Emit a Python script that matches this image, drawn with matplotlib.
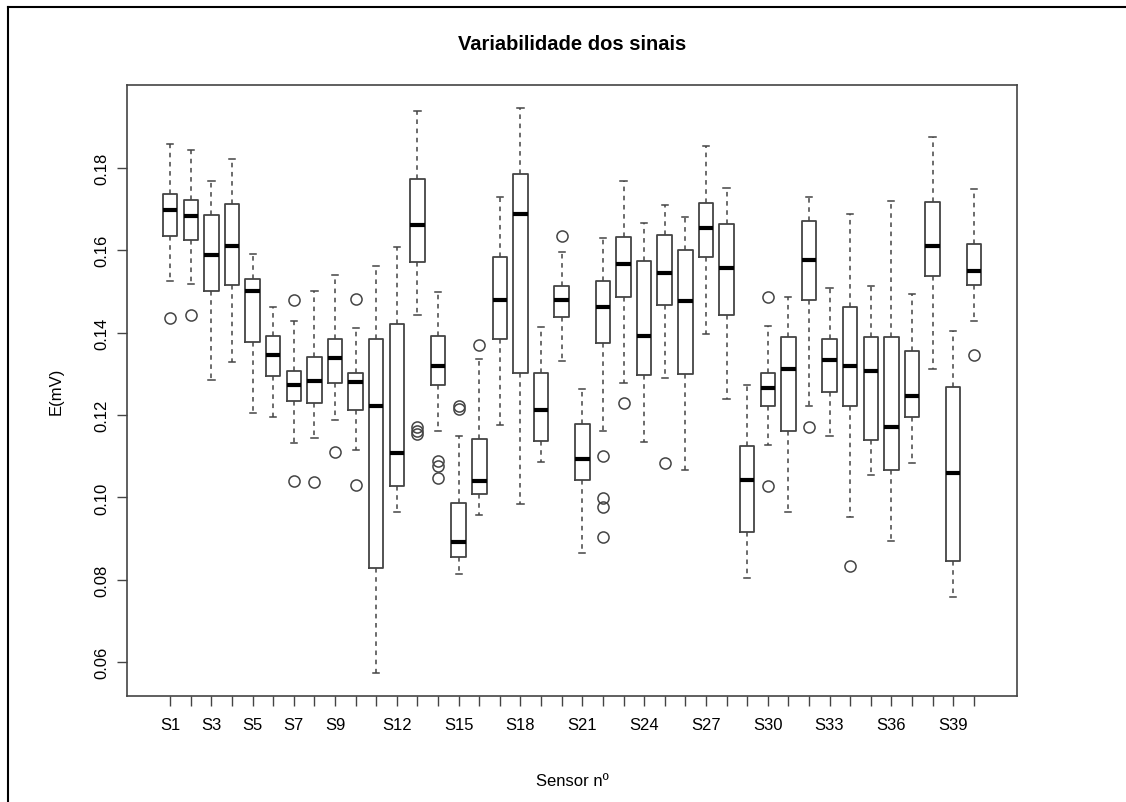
import matplotlib
matplotlib.use("Agg")
import matplotlib.pyplot as plt
from matplotlib.lines import Line2D

plt.rcParams['font.family'] = ['Liberation Sans', 'DejaVu Sans']

sensors = ["S%d" % i for i in range(1, 41)]
shown_labels = ["S1", "S3", "S5", "S7", "S9", "S12", "S15", "S18", "S21",
                "S24", "S27", "S30", "S33", "S36", "S39"]

# whisker low, q1, median, q3, whisker high (mV)
whis_lo = [0.1525, 0.1518, 0.1286, 0.1328, 0.1206, 0.1194, 0.1133, 0.1145, 0.1187, 0.1116,
           0.0573, 0.0965, 0.1442, 0.1160, 0.0815, 0.0958, 0.1175, 0.0985, 0.1087, 0.1330,
           0.0865, 0.1160, 0.1277, 0.1135, 0.1289, 0.1067, 0.1396, 0.1240, 0.0804, 0.1128,
           0.0965, 0.1221, 0.1148, 0.0953, 0.1055, 0.0895, 0.1084, 0.1311, 0.0758, 0.1428]
q1 = [0.1634, 0.1625, 0.1501, 0.1515, 0.1376, 0.1294, 0.1233, 0.1230, 0.1277, 0.1211,
      0.0829, 0.1028, 0.1571, 0.1274, 0.0856, 0.1009, 0.1384, 0.1303, 0.1138, 0.1437,
      0.1043, 0.1374, 0.1487, 0.1296, 0.1467, 0.1299, 0.1583, 0.1442, 0.0916, 0.1223,
      0.1160, 0.1479, 0.1257, 0.1221, 0.1140, 0.1067, 0.1196, 0.1537, 0.0846, 0.1515]
medians = [0.1698, 0.1683, 0.1588, 0.1610, 0.1501, 0.1345, 0.1272, 0.1282, 0.1338, 0.1279,
           0.1221, 0.1109, 0.1661, 0.1320, 0.0892, 0.1041, 0.1479, 0.1688, 0.1213, 0.1479,
           0.1094, 0.1462, 0.1566, 0.1391, 0.1544, 0.1476, 0.1654, 0.1557, 0.1043, 0.1265,
           0.1311, 0.1576, 0.1333, 0.1318, 0.1306, 0.1172, 0.1247, 0.1610, 0.1060, 0.1549]
q3 = [0.1737, 0.1722, 0.1686, 0.1712, 0.1530, 0.1391, 0.1308, 0.1342, 0.1384, 0.1303,
      0.1384, 0.1420, 0.1773, 0.1391, 0.0987, 0.1143, 0.1583, 0.1785, 0.1301, 0.1513,
      0.1177, 0.1525, 0.1632, 0.1574, 0.1637, 0.1600, 0.1715, 0.1664, 0.1126, 0.1303,
      0.1389, 0.1671, 0.1384, 0.1462, 0.1389, 0.1389, 0.1355, 0.1717, 0.1269, 0.1615]
whis_hi = [0.1858, 0.1844, 0.1768, 0.1822, 0.1591, 0.1462, 0.1428, 0.1501, 0.1540, 0.1411,
           0.1561, 0.1608, 0.1939, 0.1498, 0.1148, 0.1335, 0.1729, 0.1946, 0.1413, 0.1596,
           0.1262, 0.1630, 0.1768, 0.1666, 0.1710, 0.1681, 0.1854, 0.1751, 0.1272, 0.1415,
           0.1486, 0.1729, 0.1508, 0.1688, 0.1513, 0.1720, 0.1493, 0.1875, 0.1403, 0.1749]
outliers = [[0.1435], [0.1442], [], [], [], [], [0.1479, 0.1041], [0.1038], [0.1111], [0.1481, 0.1031],
            [], [], [0.1172, 0.1162, 0.1155], [0.1089, 0.1077, 0.1048], [0.1222, 0.1215], [0.1369], [], [], [], [0.1635],
            [], [0.1101, 0.0999, 0.0977, 0.0904], [0.1230], [], [0.1084], [], [], [], [], [0.1486, 0.1028],
            [], [0.1172], [], [0.0834], [], [], [], [], [], [0.1345]]

stats = []
for i in range(len(sensors)):
    stats.append({"label": sensors[i], "whislo": whis_lo[i], "q1": q1[i], "med": medians[i],
                  "q3": q3[i], "whishi": whis_hi[i], "fliers": outliers[i]})

fig = plt.figure(figsize=(11.26, 8.03), dpi=100)
ax = fig.add_axes([127 / 1126, 1 - 697 / 803, (1017 - 127) / 1126, (697 - 86) / 803])

line_col = "#444444"
ax.bxp(stats, positions=range(1, 41), widths=0.7, capwidths=0.3,
       boxprops=dict(color=line_col, linewidth=1.3),
       medianprops=dict(color="black", linewidth=3, solid_capstyle="butt"),
       whiskerprops=dict(color=line_col, linewidth=1.1, linestyle=(0, (3, 3))),
       capprops=dict(color=line_col, linewidth=1.1),
       flierprops=dict(marker="o", markerfacecolor="none", markeredgecolor=line_col,
                       markersize=8, markeredgewidth=1.1))

# R-style axis ranges: 4% padding
all_vals = whis_lo + whis_hi + [v for o in outliers for v in o]
lo, hi = min(all_vals), max(all_vals)
pad = 0.04 * (hi - lo)
ax.set_ylim(lo - pad, hi + pad)
ax.set_xlim(0.5 - 0.04 * 40, 40.5 + 0.04 * 40)

ax.set_yticks([0.06, 0.08, 0.10, 0.12, 0.14, 0.16, 0.18])
ax.set_yticklabels(["0.06", "0.08", "0.10", "0.12", "0.14", "0.16", "0.18"],
                   rotation=90, va="center", fontsize=12)
ax.set_xticks(range(1, 41))
ax.set_xticklabels([s if s in shown_labels else "" for s in sensors], fontsize=12)
ax.tick_params(axis="both", direction="out", length=7, width=1, color=line_col, pad=6)
ax.tick_params(axis="x", pad=8)
for sp in ax.spines.values():
    sp.set_color(line_col)
    sp.set_linewidth(1.2)

ax.set_title("Variabilidade dos sinais", fontsize=14.5, fontweight="bold", pad=26)
ax.set_xlabel("Sensor nº", fontsize=12, labelpad=30)
ax.set_ylabel("E(mV)", fontsize=12, labelpad=22)

# outer frame of the original image
fig.add_artist(Line2D([8 / 1126, 1], [1 - 8 / 803, 1 - 8 / 803], color="black", linewidth=1.5,
                      transform=fig.transFigure))
fig.add_artist(Line2D([8 / 1126, 8 / 1126], [0, 1 - 8 / 803], color="black", linewidth=1.5,
                      transform=fig.transFigure))

fig.savefig("out.png", dpi=100)
